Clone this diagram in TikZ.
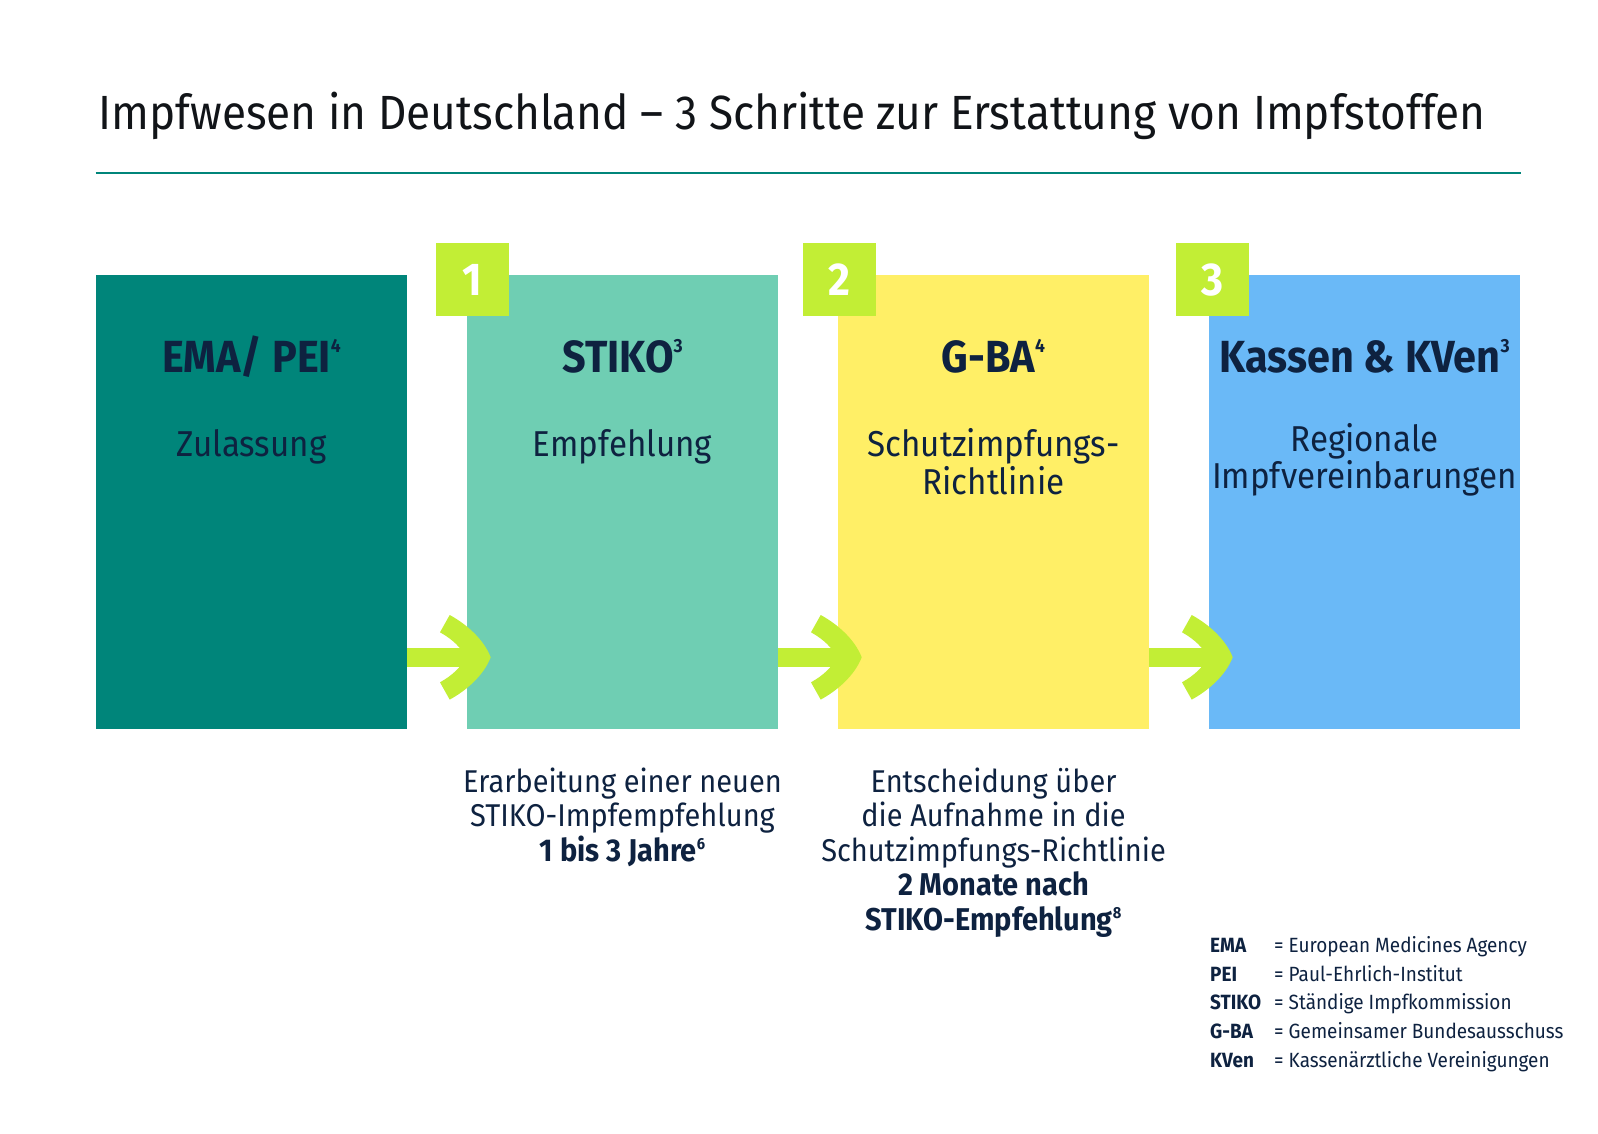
\documentclass[tikz,border=0pt]{standalone}
\usepackage{fontspec}
\setmainfont[FakeStretch=0.92]{Fira Sans}
\usetikzlibrary{calc}
\definecolor{navy}{HTML}{0E2240}
\definecolor{tealc}{HTML}{00857A}
\definecolor{mint}{HTML}{6FCEB3}
\definecolor{yell}{HTML}{FFEF66}
\definecolor{skyb}{HTML}{6AB9F7}
\definecolor{lime}{HTML}{C2EE35}
\definecolor{ink}{HTML}{111418}
\newcommand\supT[1]{{\fontsize{19}{19}\selectfont\raisebox{20pt}{#1}}}
\newcommand\supB[1]{{\fontsize{16}{16}\selectfont\raisebox{11.5pt}{#1}}}
\newcommand\archead[1]{\fill[lime, shift={(#1)}] (-17,-42.3) .. controls (0,-33) and (17,-18) .. (24,0) .. controls (17,18) and (0,33) .. (-17,42.3) -- (-26.7,25) .. controls (-14,18) and (-5,9) .. (-1,0) .. controls (-5,-9) and (-14,-18) .. (-26.7,-25) -- cycle;}
\tikzset{
  box/.style={minimum width=311.6pt, minimum height=454pt, inner sep=0pt, outer sep=0pt, anchor=north west},
  numsq/.style={fill=lime, minimum size=73pt, inner sep=0pt, text=white, font=\fontsize{46}{46}\selectfont\bfseries},
  ttl/.style={anchor=base, text=navy, inner sep=0pt, font=\fontsize{45}{54}\selectfont\bfseries},
  sub/.style={anchor=base, text=navy, inner sep=0pt, font=\fontsize{36}{44}\selectfont},
  low/.style={anchor=base, text=navy, inner sep=0pt, font=\fontsize{31.5}{35}\selectfont},
  lowb/.style={low, font=\fontsize{31.5}{35}\selectfont\bfseries},
  legA/.style={anchor=base west, text=navy, inner sep=0pt, font=\fontsize{20.6}{25}\selectfont\bfseries},
  legB/.style={anchor=base west, text=navy, inner sep=0pt, font=\fontsize{20.6}{25}\selectfont},
  shaft/.style={draw=lime, line width=19.5pt}
}
\begin{document}
\begin{tikzpicture}[x=1pt,y=-1pt]
\useasboundingbox (0,0) rectangle (1598,1133);
\fill[white] (0,0) rectangle (1598,1133);
\node[anchor=base west, inner sep=0pt, text=ink, font=\fontsize{48}{58}\selectfont] (title) at (98.3,129) {Impfwesen in Deutschland – 3 Schritte zur Erstattung von Impfstoffen};
\coordinate (rl) at (95.7,172.7);
\coordinate (rr) at (1520.7,172.7);
\draw[tealc, line width=2.2pt] (rl) -- (rr);

\node[box, fill=tealc] (b1) at (95.7,275) {};
\node[box, fill=mint] (b2) at (466.7,275) {};
\node[box, fill=yell] (b3) at (837.7,275) {};
\node[box, fill=skyb] (b4) at (1208.7,275) {};

\node[numsq] (n1) at ($(b2.north west)+(5.8,4.8)$) {1};
\node[numsq] (n2) at ($(b3.north west)+(1.8,4.8)$) {2};
\node[numsq] (n3) at ($(b4.north west)+(3.8,4.8)$) {3};

\node[ttl] (h1) at (251.5,372.7) {EMA/ PEI\supT{4}};
\node[ttl] (h2) at (622.5,372.7) {STIKO\supT{3}};
\node[ttl] (h3) at (993.5,372.7) {G-BA\supT{4}};
\node[ttl] (h4) at (1364.5,372.7) {Kassen \& KVen\supT{3}};

\node[sub] (s1) at (251.5,456.7) {Zulassung};
\node[sub] (s2) at (622.5,456.7) {Empfehlung};
\node[sub] (s3a) at (993.5,456.7) {Schutzimpfungs-};
\node[sub] (s3b) at (993.5,494) {Richtlinie};
\node[sub] (s4a) at (1364.5,451.7) {Regionale};
\node[sub] (s4b) at (1364.5,488.3) {Impfvereinbarungen};

\coordinate (a1s) at ($(b1.south east)+(0,-71.7)$);
\coordinate (a1t) at ($(b2.south west)+(0,-71.7)$);
\coordinate (a2s) at ($(b2.south east)+(0,-71.7)$);
\coordinate (a2t) at ($(b3.south west)+(0,-71.7)$);
\coordinate (a3s) at ($(b3.south east)+(0,-71.7)$);
\coordinate (a3t) at ($(b4.south west)+(0,-71.7)$);
\draw[shaft] (a1s) -- ($(a1t)+(2,0)$);
\draw[shaft] (a2s) -- ($(a2t)+(2,0)$);
\draw[shaft] (a3s) -- ($(a3t)+(2,0)$);
\archead{a1t}
\archead{a2t}
\archead{a3t}

\node[low] (l2a) at (622.5,792) {Erarbeitung einer neuen};
\node[low] (l2b) at (622.5,826.5) {STIKO-Impfempfehlung};
\node[lowb] (l2c) at (622.5,861) {1 bis 3 Jahre\supB{6}};

\node[low] (l3a) at (993.5,792) {Entscheidung über};
\node[low] (l3b) at (993.5,826.5) {die Aufnahme in die};
\node[low] (l3c) at (993.5,861) {Schutzimpfungs-Richtlinie};
\node[lowb] (l3d) at (993.5,895.5) {2 Monate nach};
\node[lowb] (l3e) at (993.5,930) {STIKO-Empfehlung\supB{8}};

\node[legA] (g1a) at (1210,952.3) {EMA};
\node[legB] (g1b) at (1274,952.3) {= European Medicines Agency};
\node[legA] (g2a) at (1210,981) {PEI};
\node[legB] (g2b) at (1274,981) {= Paul-Ehrlich-Institut};
\node[legA] (g3a) at (1210,1009.7) {STIKO};
\node[legB] (g3b) at (1274,1009.7) {= Ständige Impfkommission};
\node[legA] (g4a) at (1210,1038.4) {G-BA};
\node[legB] (g4b) at (1274,1038.4) {= Gemeinsamer Bundesausschuss};
\node[legA] (g5a) at (1210,1067) {KVen};
\node[legB] (g5b) at (1274,1067) {= Kassenärztliche Vereinigungen};
\end{tikzpicture}
\end{document}
